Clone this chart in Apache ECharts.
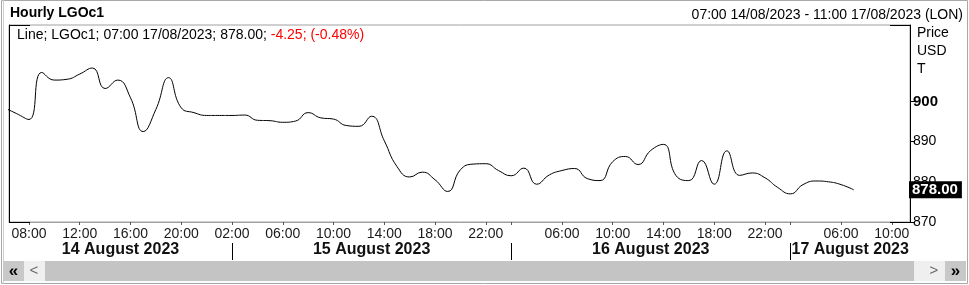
<!DOCTYPE html>
<html><head><meta charset="utf-8">
<script src="https://cdn.jsdelivr.net/npm/echarts@6/dist/echarts.min.js"></script>
<style>html,body{margin:0;padding:0;background:#fff}#c{width:969px;height:285px}</style>
</head><body><div id="c"></div>
<script>
const FONT = '"Liberation Sans", Arial, sans-serif';
const titleText = 'Hourly LGOc1';
const rangeText = '07:00 14/08/2023 - 11:00 17/08/2023 (LON)';
const instrument = 'LGOc1';
const lastTime = '07:00 17/08/2023';
const lastPrice = 878.00;
const change = -4.25;
const changePct = -0.48;
// x = trading-hour slot (01:00..22:00 each day); slot 0 = 07:00 14/08/2023
const firstSlot = -1;
const prices = [
  898.5, 897.0, 895.5, 907.2, 905.3, 905.5, 906.8, 908.3, 903.2, 905.3,
  900.9, 892.5, 898.0, 905.9, 898.4, 897.2, 896.5, 896.5, 896.5, 896.6,
  895.3, 895.2, 894.8, 895.1, 897.2, 895.9, 895.6, 894.0, 893.8, 896.3,
  890.2, 883.8, 881.2, 882.4, 880.5, 877.6, 883.0, 884.4, 884.5, 882.8,
  881.5, 883.4, 879.4, 881.7, 882.8, 883.3, 880.8, 880.3, 885.0, 886.3,
  884.3, 887.8, 889.3, 881.5, 880.3, 885.3, 879.4, 887.7, 881.6, 882.2,
  881.0, 878.6, 877.0, 879.3, 880.2, 880.0, 879.3, 878.0
];
const tickSlots = [1,5,9,13,17,21,25,29,33,37,39,43,47,51,55,59,61,65,69];
const tickLabels = ['08:00','12:00','16:00','20:00','02:00','06:00','10:00','14:00','18:00','22:00','','06:00','10:00','14:00','18:00','22:00','','06:00','10:00'];
const daySplitSlots = [17,39,61];
const dayLabels = ['14 August 2023','15 August 2023','16 August 2023','17 August 2023'];
const yTicks = [870,880,890,900];
const yBold = 900;
const axisUnits = ['Price','USD','T'];
const xMin = -0.575, xMax = 70.43, yMin = 870, yMax = 919;

const chart = echarts.init(document.getElementById('c'), null, {renderer:'canvas'});
const opt = {
  animation:false,
  textStyle:{fontFamily:FONT},
  grid:{left:9, right:59, top:25, bottom:63, show:true, borderColor:'#a0a0a0', borderWidth:1, backgroundColor:'#fff'},
  xAxis:{
    type:'value', min:xMin, max:xMax,
    axisLine:{show:true, onZero:false, lineStyle:{color:'#a0a0a0', width:1}},
    axisTick:{show:true, customValues:tickSlots, length:3, lineStyle:{color:'#555'}},
    axisLabel:{show:false},
    splitLine:{show:false}
  },
  yAxis:[{
    type:'value', min:yMin, max:yMax, position:'right',
    axisLine:{show:true, onZero:false, lineStyle:{color:'#000', width:1}},
    axisTick:{show:true, customValues:yTicks, length:5, lineStyle:{color:'#000'}},
    axisLabel:{show:true, customValues:yTicks, margin:3, color:'#000', fontSize:14, fontFamily:FONT,
      formatter:v=>v===yBold?'{b|'+v+'}':String(v),
      rich:{b:{fontWeight:'bold', fontSize:15, fontFamily:FONT, color:'#000'}}},
    splitLine:{show:false}
  },{
    type:'value', min:yMin, max:yMax, position:'left',
    axisLine:{show:true, onZero:false, lineStyle:{color:'#000', width:1}},
    axisTick:{show:false}, axisLabel:{show:false}, splitLine:{show:false}
  }],
  series:[{
    type:'line', data:prices.map((v,i)=>[firstSlot+i, v]), smooth:0.5, showSymbol:false,
    lineStyle:{color:'#000', width:1}, clip:true, z:3,
    markLine:{silent:true, symbol:['none','none'], animation:false,
      data:[{yAxis:lastPrice}], lineStyle:{color:'rgba(0,0,0,0)', width:1, type:'solid'},
      label:{show:true, position:'end', distance:-1, formatter:lastPrice.toFixed(2),
        backgroundColor:'#000', color:'#fff', fontWeight:'bold', fontSize:15, fontFamily:FONT, padding:[1,4,1,3]}}
  }]
};
chart.setOption(opt);

const px = s => chart.convertToPixel({xAxisIndex:0}, s);
const gl = chart.convertToPixel({xAxisIndex:0}, xMin);
const gr = chart.convertToPixel({xAxisIndex:0}, xMax);
const gTop = chart.convertToPixel({yAxisIndex:0}, yMax);
const gBot = chart.convertToPixel({yAxisIndex:0}, yMin);
const g = [];
// outer frame
g.push({type:'rect', shape:{x:1.5,y:0.5,width:966,height:283}, style:{fill:null, stroke:'#a8a8a8', lineWidth:1}, silent:true});
g.push({type:'line', shape:{x1:3.5,y1:0,x2:3.5,y2:284}, style:{stroke:'#d0d0d0', lineWidth:1}, silent:true});
// corner black segments
[[gl,gTop,gl+21],[gr-20,gTop,gr],[gl,gBot,gl+21],[gr-20,gBot,gr]].forEach(a=>{
  g.push({type:'line', shape:{x1:a[0],y1:Math.round(a[1])+0.5,x2:a[2],y2:Math.round(a[1])+0.5}, style:{stroke:'#000',lineWidth:1}, silent:true, z:10});
});
g.push({type:'text', x:10, y:13, style:{text:titleText, fontFamily:FONT, fontSize:14, fontWeight:'bold', fill:'#000', verticalAlign:'middle'}});
g.push({type:'text', x:963, y:15, style:{text:rangeText, fontFamily:FONT, fontSize:14, fill:'#000', align:'right', verticalAlign:'middle'}});
const chStr = change.toFixed(2)+'; ('+changePct.toFixed(2)+'%)';
g.push({type:'text', x:17, y:35, z:20, style:{text:'{a|Line; '+instrument+'; '+lastTime+'; '+lastPrice.toFixed(2)+'; }{r|'+chStr+'}',
  verticalAlign:'middle', rich:{a:{fontFamily:FONT,fontSize:14,fill:'#000'}, r:{fontFamily:FONT,fontSize:14,fill:'#ff0000'}}}});
axisUnits.forEach((t,i)=>g.push({type:'text', x:917, y:33+i*18, style:{text:t, fontFamily:FONT, fontSize:14, fill:'#000', verticalAlign:'middle'}}));
// time labels
tickSlots.forEach((s,i)=>{ if(!tickLabels[i]) return;
  g.push({type:'text', x:px(s), y:234, style:{text:tickLabels[i], fontFamily:FONT, fontSize:14, fill:'#1a1a1a', align:'center', verticalAlign:'middle'}});
});
// day separators and labels
const bounds = [gl].concat(daySplitSlots.map(px)).concat([gr]);
daySplitSlots.forEach(s=>{const x=Math.round(px(s))+0.5;
  g.push({type:'line', shape:{x1:x,y1:243,x2:x,y2:260}, style:{stroke:'#000',lineWidth:1}, silent:true});});
dayLabels.forEach((t,i)=>{
  const c=(bounds[i]+bounds[i+1])/2;
  g.push({type:'text', x:c, y:250, style:{text:t, fontFamily:FONT, fontSize:16, fontWeight:'bold', fill:'#111', align:'center', verticalAlign:'middle'}});
});
// scrollbar
g.push({type:'rect', shape:{x:3,y:261,width:21,height:20}, style:{fill:'#c8c8c8'}, silent:true});
g.push({type:'rect', shape:{x:24,y:261,width:21,height:20}, style:{fill:'#efefef'}, silent:true});
g.push({type:'rect', shape:{x:45,y:261,width:869,height:20}, style:{fill:'#c4c4c4'}, silent:true});
g.push({type:'rect', shape:{x:914,y:261,width:31,height:20}, style:{fill:'#efefef'}, silent:true});
g.push({type:'rect', shape:{x:945,y:261,width:21,height:20}, style:{fill:'#c8c8c8'}, silent:true});
g.push({type:'text', x:13.5, y:271, style:{text:'«', fontFamily:FONT, fontSize:17, fontWeight:'bold', fill:'#000', align:'center', verticalAlign:'middle'}});
g.push({type:'text', x:34, y:271, style:{text:'<', fontFamily:FONT, fontSize:15, fill:'#666', align:'center', verticalAlign:'middle'}});
g.push({type:'text', x:934, y:271, style:{text:'>', fontFamily:FONT, fontSize:15, fill:'#666', align:'center', verticalAlign:'middle'}});
g.push({type:'text', x:955.5, y:271, style:{text:'»', fontFamily:FONT, fontSize:17, fontWeight:'bold', fill:'#000', align:'center', verticalAlign:'middle'}});
chart.setOption({graphic:g});
</script></body></html>
